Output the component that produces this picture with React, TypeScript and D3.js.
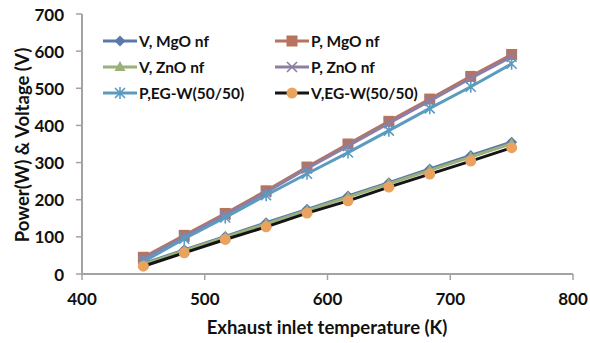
import * as d3 from "d3";

// ---- data ----
const temps = [450, 483.3, 516.7, 550, 583.3, 616.7, 650, 683.3, 716.7, 750];

const vMgO = [28, 65, 101, 138, 174, 210, 246, 283, 319, 355];
const pMgO = [45, 104, 163, 224, 288, 350, 411, 471, 532, 591];
const vZnO = [26, 63, 99, 135, 171, 207, 243, 279, 315, 351];
const pZnO = [41, 100, 159, 220, 284, 345, 406, 466, 527, 585];
const pEGW = [33, 95, 152, 212, 270, 327, 386, 446, 504, 566];
const vEGW = [21, 57, 93, 127, 164, 197, 234, 269, 304, 340];

const xTicks = [400, 500, 600, 700, 800];
const yTicks = [0, 100, 200, 300, 400, 500, 600, 700];

type Marker = "diamond" | "square" | "triangle" | "x" | "star" | "circle";

interface Series {
  name: string;
  values: number[];
  line: string;
  fill: string;
  marker: Marker;
}

const series: Series[] = [
  { name: "V, MgO nf", values: vMgO, line: "#5a79aa", fill: "#5a79aa", marker: "diamond" },
  { name: "P, MgO nf", values: pMgO, line: "#b8735f", fill: "#b8735f", marker: "square" },
  { name: "V, ZnO nf", values: vZnO, line: "#9bb07a", fill: "#9bb07a", marker: "triangle" },
  { name: "P, ZnO nf", values: pZnO, line: "#8d7ea3", fill: "#8d7ea3", marker: "x" },
  { name: "P,EG-W(50/50)", values: pEGW, line: "#5b9bc0", fill: "#5b9bc0", marker: "star" },
  { name: "V,EG-W(50/50)", values: vEGW, line: "#141414", fill: "#e9a35f", marker: "circle" },
];

const W = 590;
const H = 343;
const FONT = "Lato, 'Open Sans', sans-serif";
const AXIS = "#a3a3a3";

function MarkerShape({ kind, x, y, color }: { kind: Marker; x: number; y: number; color: string }) {
  switch (kind) {
    case "diamond":
      return <path d={`M${x},${y - 5.5}L${x + 5.5},${y}L${x},${y + 5.5}L${x - 5.5},${y}Z`} fill={color} />;
    case "square":
      return <rect x={x - 5.5} y={y - 5.5} width={11} height={11} fill={color} />;
    case "triangle":
      return <path d={`M${x},${y - 6}L${x + 5.5},${y + 4}L${x - 5.5},${y + 4}Z`} fill={color} />;
    case "x":
      return (
        <path
          d={`M${x - 5},${y - 5}L${x + 5},${y + 5}M${x + 5},${y - 5}L${x - 5},${y + 5}`}
          stroke={color}
          strokeWidth={1.6}
        />
      );
    case "star":
      return (
        <path
          d={`M${x - 5},${y - 5}L${x + 5},${y + 5}M${x + 5},${y - 5}L${x - 5},${y + 5}M${x},${y - 6}L${x},${y + 6}`}
          stroke={color}
          strokeWidth={1.6}
        />
      );
    case "circle":
      return <circle cx={x} cy={y} r={5.5} fill={color} />;
  }
}

export default function App() {
  const x = d3.scaleLinear().domain([400, 800]).range([82, 573]);
  const y = d3.scaleLinear().domain([0, 700]).range([274, 14]);

  const line = d3
    .line<number>()
    .x((_, i) => x(temps[i]))
    .y((d) => y(d));

  // legend placement: two columns, three rows
  const legendCols = [103, 275];
  const legendRows = [41, 67, 93];

  return (
    <svg
      width={W}
      height={H}
      style={{ position: "absolute", left: 0, top: 0, background: "#fff" }}
      fontFamily={FONT}
    >
      {/* axes */}
      <line x1={x(400)} x2={x(800)} y1={y(0)} y2={y(0)} stroke={AXIS} strokeWidth={2} />
      <line x1={x(400)} x2={x(400)} y1={y(0)} y2={y(700)} stroke={AXIS} strokeWidth={2} />
      {yTicks.map((t) => (
        <g key={`y${t}`}>
          <line x1={x(400) - 6} x2={x(400)} y1={y(t)} y2={y(t)} stroke={AXIS} strokeWidth={1.5} />
          <text
            x={64}
            y={y(t)}
            textAnchor="end"
            dominantBaseline="central"
            fontSize={17}
            fontWeight={700}
            fill="#111"
          >
            {t}
          </text>
        </g>
      ))}
      {xTicks.map((t) => (
        <g key={`x${t}`}>
          <line x1={x(t)} x2={x(t)} y1={y(0)} y2={y(0) + 6} stroke={AXIS} strokeWidth={1.5} />
          <text
            x={x(t)}
            y={298}
            textAnchor="middle"
            dominantBaseline="central"
            fontSize={17}
            fontWeight={700}
            fill="#111"
          >
            {t}
          </text>
        </g>
      ))}

      <text x={327} y={327} textAnchor="middle" dominantBaseline="central" fontSize={18.5} fontWeight={700} fill="#111">
        Exhaust inlet temperature (K)
      </text>
      <text
        transform={`translate(22,145) rotate(-90)`}
        textAnchor="middle"
        dominantBaseline="central"
        fontSize={18.5}
        fontWeight={700}
        fill="#111"
      >
        Power(W) &amp; Voltage (V)
      </text>

      {/* series */}
      {series.map((s) => (
        <g key={s.name}>
          <path d={line(s.values) ?? ""} fill="none" stroke={s.line} strokeWidth={3} />
          {s.values.map((v, i) => (
            <MarkerShape key={i} kind={s.marker} x={x(temps[i])} y={y(v)} color={s.fill} />
          ))}
        </g>
      ))}

      {/* legend */}
      {series.map((s, i) => {
        const lx = legendCols[i % 2];
        const ly = legendRows[Math.floor(i / 2)];
        return (
          <g key={`lg${s.name}`}>
            <line x1={lx} x2={lx + 34} y1={ly} y2={ly} stroke={s.line} strokeWidth={3} />
            <MarkerShape kind={s.marker} x={lx + 17} y={ly} color={s.fill} />
            <text x={lx + 36} y={ly} dominantBaseline="central" fontSize={15.5} fontWeight={700} fill="#111">
              {s.name}
            </text>
          </g>
        );
      })}
    </svg>
  );
}
